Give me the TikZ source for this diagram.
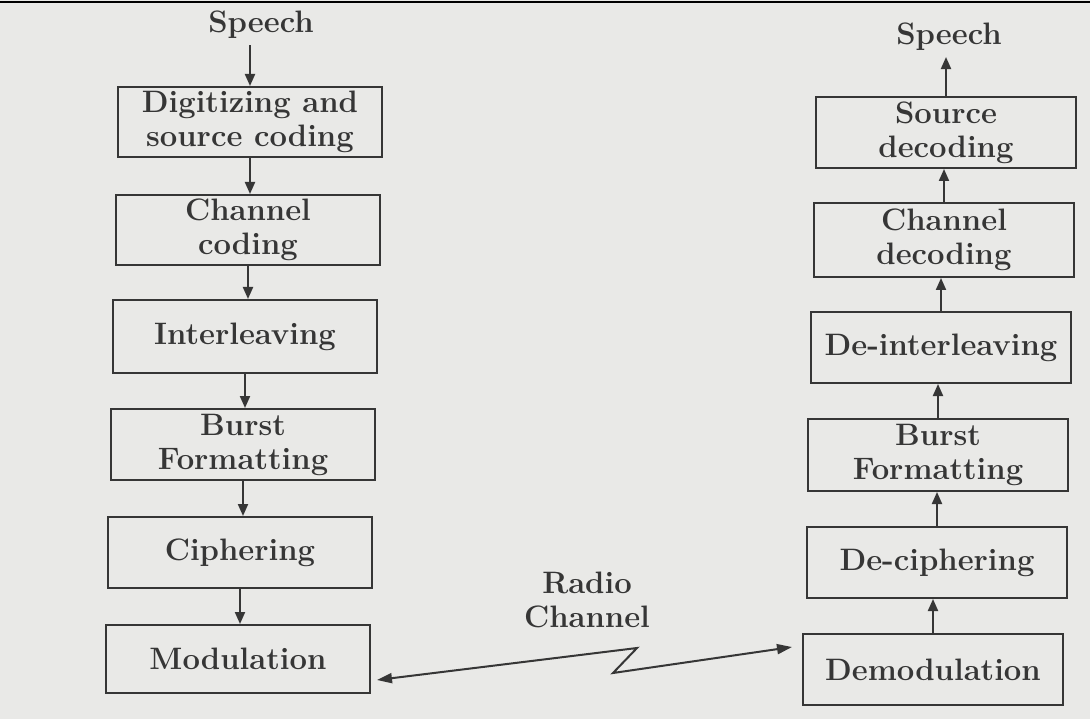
\documentclass[tikz,border=0pt]{standalone}
\usetikzlibrary{arrows.meta}
\definecolor{bg}{HTML}{E9E9E7}
\definecolor{ink}{HTML}{363636}
\begin{document}
\begin{tikzpicture}[x=1pt,y=-1pt,
  txt/.style={text=ink, align=center, font=\bfseries\fontsize{31}{34}\selectfont},
  box/.style={txt, draw=ink, line width=2pt, inner sep=0pt},
  lbox/.style={box, minimum width=264pt},
  rbox/.style={box, minimum width=260pt},
  lbl/.style={txt, inner sep=6pt},
  arr/.style={draw=ink, line width=2pt, -{Triangle[length=12pt,width=10pt]}},
  radio/.style={draw=ink, line width=2pt, {Triangle[length=15pt,width=10pt]}-{Triangle[length=15pt,width=10pt]}}]
\fill[bg] (0,0) rectangle (1090,719);
\useasboundingbox (0,0) rectangle (1090,719);
\draw[black, line width=2.5pt] (0,2) -- (1090,2);
% transmitter side
\node[lbl] (sp1) at (261,25) {Speech};
\node[lbox, minimum height=70pt] (b1) at (250,122) {Digitizing and\\source coding};
\node[lbox, minimum height=70pt] (b2) at (248,230) {Channel\\coding};
\node[lbox, minimum height=73pt] (b3) at (245,336.5) {Interleaving};
\node[lbox, minimum height=71pt] (b4) at (243,444.5) {Burst\\Formatting};
\node[lbox, minimum height=71pt] (b5) at (240,552.5) {Ciphering};
\node[lbox, minimum height=68pt] (b6) at (238,659) {Modulation};
% receiver side
\node[lbl] (sp2) at (949,37) {Speech};
\node[rbox, minimum height=71pt] (r1) at (946,132.5) {Source\\decoding};
\node[rbox, minimum height=74pt] (r2) at (944,240) {Channel\\decoding};
\node[rbox, minimum height=71pt] (r3) at (941,347.5) {De-interleaving};
\node[rbox, minimum height=72pt] (r4) at (938,455) {Burst\\Formatting};
\node[rbox, minimum height=71pt] (r5) at (937,562.5) {De-ciphering};
\node[rbox, minimum height=71pt] (r6) at (933,669.5) {Demodulation};
% radio channel
\node[txt] (rc) at (587,600) {Radio\\Channel};
\coordinate (t1) at (377,680);
\coordinate (k1) at (637,648);
\coordinate (k2) at (613,673);
\coordinate (t2) at (792,647);
% arrows
\draw[arr] (sp1.south -| b1.north) -- (b1.north);
\draw[arr] (b1.south) -- (b1.south |- b2.north);
\draw[arr] (b2.south) -- (b2.south |- b3.north);
\draw[arr] (b3.south) -- (b3.south |- b4.north);
\draw[arr] (b4.south) -- (b4.south |- b5.north);
\draw[arr] (b5.south) -- (b5.south |- b6.north);
\draw[arr] (r6.north) -- (r6.north |- r5.south);
\draw[arr] (r5.north) -- (r5.north |- r4.south);
\draw[arr] (r4.north) -- (r4.north |- r3.south);
\draw[arr] (r3.north) -- (r3.north |- r2.south);
\draw[arr] (r2.north) -- (r2.north |- r1.south);
\draw[arr] (r1.north) -- (r1.north |- sp2.south);
\draw[radio] (t1) -- (k1) -- (k2) -- (t2);
\end{tikzpicture}
\end{document}
